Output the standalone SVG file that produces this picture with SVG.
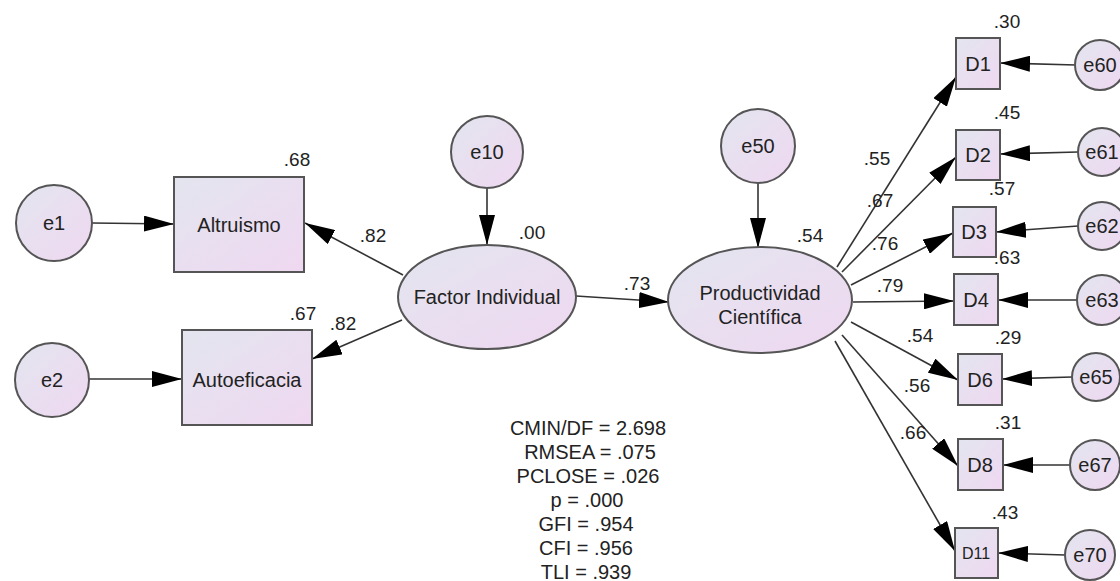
<svg xmlns="http://www.w3.org/2000/svg" width="1120" height="581" viewBox="0 0 1120 581">
<defs>
<linearGradient id="g" x1="0" y1="0" x2="1" y2="1">
<stop offset="0" stop-color="#e3e5ef"/>
<stop offset="1" stop-color="#efd8f1"/>
</linearGradient>
<marker id="ah" markerUnits="userSpaceOnUse" markerWidth="32" markerHeight="16" refX="30" refY="8" orient="auto">
<path d="M0,0 L30,8 L0,16 z" fill="#000"/>
</marker>
<style>
.n{fill:url(#g);stroke:#555;stroke-width:2}
.t{font-family:"Liberation Sans",Arial,sans-serif;font-size:20px;fill:#222;text-anchor:middle}
.s{font-size:16px}
.v{font-family:"Liberation Sans",Arial,sans-serif;font-size:19px;fill:#222;text-anchor:middle}
.c line{stroke:#333;stroke-width:1.6;marker-end:url(#ah)}
</style>
</defs>
<rect width="1120" height="581" fill="#fff"/>
<g class="c" id="connectors">
<line x1="92" y1="223" x2="174" y2="224"/>
<line x1="89" y1="379" x2="182" y2="379"/>
<line x1="403" y1="275" x2="305" y2="223"/>
<line x1="402" y1="320" x2="312" y2="359"/>
<line x1="487" y1="188" x2="487" y2="245"/>
<line x1="758" y1="183" x2="758" y2="248"/>
<line x1="576" y1="296" x2="669" y2="302"/>
<line x1="837" y1="267" x2="956" y2="77"/>
<line x1="842" y1="272" x2="956" y2="157"/>
<line x1="851" y1="285" x2="953" y2="233"/>
<line x1="853" y1="302" x2="954" y2="301"/>
<line x1="851" y1="322" x2="958" y2="380"/>
<line x1="842" y1="335" x2="958" y2="466"/>
<line x1="835" y1="341" x2="955" y2="551"/>
<line x1="1076" y1="65" x2="1000" y2="63"/>
<line x1="1078" y1="152" x2="1000" y2="154"/>
<line x1="1078" y1="226" x2="996" y2="232"/>
<line x1="1077" y1="300" x2="998" y2="300"/>
<line x1="1072" y1="377" x2="1002" y2="379"/>
<line x1="1070" y1="465" x2="1003" y2="465"/>
<line x1="1065" y1="555" x2="998" y2="553"/>
</g>
<g id="e1"><circle class="n" cx="54" cy="223" r="38"/><text class="t" x="54" y="230">e1</text></g>
<g id="e2"><circle class="n" cx="52" cy="380" r="37"/><text class="t" x="52" y="387">e2</text></g>
<g id="altruismo"><rect class="n" x="174" y="177" width="130" height="95"/><text class="t" x="239" y="232">Altruismo</text></g>
<g id="autoeficacia"><rect class="n" x="182" y="330" width="130" height="95"/><text class="t" x="247" y="387">Autoeficacia</text></g>
<g id="e10"><circle class="n" cx="487" cy="152" r="36"/><text class="t" x="487" y="159">e10</text></g>
<g id="factor"><ellipse class="n" cx="487" cy="297" rx="89" ry="52"/><text class="t" x="487" y="304">Factor Individual</text></g>
<g id="e50"><circle class="n" cx="758" cy="146" r="37"/><text class="t" x="758" y="153">e50</text></g>
<g id="productividad"><ellipse class="n" cx="760" cy="300" rx="92" ry="53"/><text class="t" x="760" y="300">Productividad</text><text class="t" x="760" y="324">Científica</text></g>
<g id="D1"><rect class="n" x="956" y="38" width="44" height="51"/><text class="t" x="978" y="71">D1</text></g>
<g id="D2"><rect class="n" x="956" y="130" width="44" height="50"/><text class="t" x="978" y="162">D2</text></g>
<g id="D3"><rect class="n" x="953" y="207" width="43" height="50"/><text class="t" x="974" y="239">D3</text></g>
<g id="D4"><rect class="n" x="954" y="274" width="44" height="51"/><text class="t" x="976" y="307">D4</text></g>
<g id="D6"><rect class="n" x="958" y="354" width="44" height="51"/><text class="t" x="980" y="387">D6</text></g>
<g id="D8"><rect class="n" x="958" y="439" width="45" height="51"/><text class="t" x="980" y="472">D8</text></g>
<g id="D11"><rect class="n" x="955" y="528" width="43" height="50"/><text class="t s" x="976" y="559">D11</text></g>
<g id="e60"><circle class="n" cx="1100" cy="65" r="25"/><text class="t" x="1100" y="72">e60</text></g>
<g id="e61"><circle class="n" cx="1102" cy="152" r="24"/><text class="t" x="1102" y="159">e61</text></g>
<g id="e62"><circle class="n" cx="1102" cy="226" r="24"/><text class="t" x="1102" y="233">e62</text></g>
<g id="e63"><circle class="n" cx="1102" cy="300" r="25"/><text class="t" x="1102" y="307">e63</text></g>
<g id="e65"><circle class="n" cx="1096" cy="377" r="24"/><text class="t" x="1096" y="384">e65</text></g>
<g id="e67"><circle class="n" cx="1095" cy="465" r="25"/><text class="t" x="1095" y="472">e67</text></g>
<g id="e70"><circle class="n" cx="1090" cy="555" r="25"/><text class="t" x="1090" y="562">e70</text></g>
<g id="values">
<text class="v" x="297" y="166">.68</text>
<text class="v" x="373" y="242">.82</text>
<text class="v" x="303" y="320">.67</text>
<text class="v" x="343" y="330">.82</text>
<text class="v" x="532" y="239">.00</text>
<text class="v" x="637" y="290">.73</text>
<text class="v" x="810" y="242">.54</text>
<text class="v" x="1007" y="28">.30</text>
<text class="v" x="1007" y="119">.45</text>
<text class="v" x="1002" y="195">.57</text>
<text class="v" x="1007" y="264">.63</text>
<text class="v" x="1008" y="344">.29</text>
<text class="v" x="1008" y="429">.31</text>
<text class="v" x="1005" y="519">.43</text>
<text class="v" x="877" y="165">.55</text>
<text class="v" x="880" y="207">.67</text>
<text class="v" x="885" y="250">.76</text>
<text class="v" x="890" y="292">.79</text>
<text class="v" x="920" y="342">.54</text>
<text class="v" x="917" y="392">.56</text>
<text class="v" x="913" y="439">.66</text>
</g>
<g id="stats">
<text class="t" x="588" y="435">CMIN/DF = 2.698</text>
<text class="t" x="590" y="459">RMSEA = .075</text>
<text class="t" x="588" y="483">PCLOSE = .026</text>
<text class="t" x="587" y="507">p = .000</text>
<text class="t" x="586" y="531">GFI = .954</text>
<text class="t" x="586" y="555">CFI = .956</text>
<text class="t" x="586" y="579">TLI = .939</text>
</g>
</svg>
